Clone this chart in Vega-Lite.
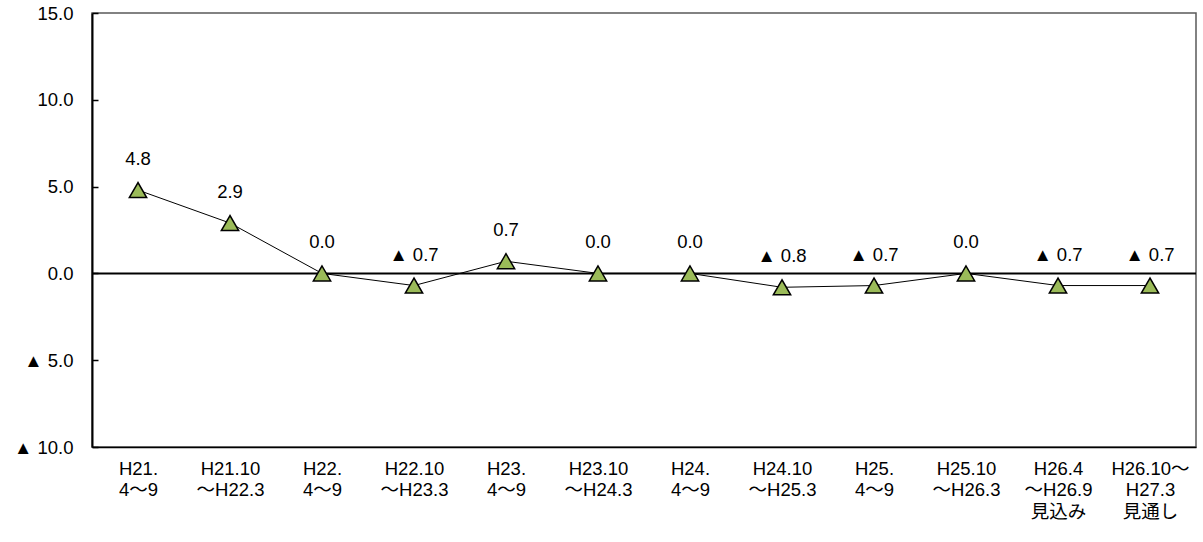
{
  "$schema": "https://vega.github.io/schema/vega-lite/v6.json",
  "width": 1104,
  "height": 434,
  "autosize": {"type": "none"},
  "padding": {"left": 92, "top": 13, "right": 7, "bottom": 95},
  "background": "white",
  "config": {
    "font": "Liberation Sans, Noto Sans CJK JP",
    "view": {"stroke": "#595959", "strokeWidth": 1.5}
  },
  "data": {
    "values": [
      {"period": "H21.|4～9", "value": 4.8},
      {"period": "H21.10|～H22.3", "value": 2.9},
      {"period": "H22.|4～9", "value": 0.0},
      {"period": "H22.10|～H23.3", "value": -0.7},
      {"period": "H23.|4～9", "value": 0.7},
      {"period": "H23.10|～H24.3", "value": 0.0},
      {"period": "H24.|4～9", "value": 0.0},
      {"period": "H24.10|～H25.3", "value": -0.8},
      {"period": "H25.|4～9", "value": -0.7},
      {"period": "H25.10|～H26.3", "value": 0.0},
      {"period": "H26.4|～H26.9|見込み", "value": -0.7},
      {"period": "H26.10～|H27.3|見通し", "value": -0.7}
    ]
  },
  "encoding": {
    "x": {
      "field": "period",
      "type": "nominal",
      "sort": null,
      "scale": {"paddingInner": 0, "paddingOuter": 0},
      "axis": {
        "title": null,
        "labelAngle": 0,
        "labelExpr": "split(datum.label, '|')",
        "labelFontSize": 18.5,
        "labelColor": "black",
        "labelLineHeight": 21.5,
        "labelPadding": 12,
        "ticks": false,
        "domainColor": "black",
        "domainWidth": 1.5
      }
    },
    "y": {
      "field": "value",
      "type": "quantitative",
      "scale": {"domain": [-10, 15], "nice": false, "zero": false},
      "axis": {
        "title": null,
        "values": [-10, -5, 0, 5, 10, 15],
        "grid": false,
        "labelExpr": "datum.value < 0 ? '▲ ' + format(-datum.value, '.1f') : format(datum.value, '.1f')",
        "labelFontSize": 18.5,
        "labelColor": "black",
        "domainColor": "black",
        "domainWidth": 2,
        "tickColor": "black",
        "tickWidth": 1.5,
        "tickSize": -6,
        "labelPadding": 25
      }
    }
  },
  "layer": [
    {
      "data": {"values": [{"zero": 0}]},
      "mark": {"type": "rule", "color": "black", "strokeWidth": 2},
      "encoding": {"y": {"field": "zero", "type": "quantitative"}, "x": null}
    },
    {
      "mark": {"type": "line", "color": "black", "strokeWidth": 1}
    },
    {
      "mark": {"type": "point", "shape": "triangle-up", "filled": true, "fill": "#9BBB59", "stroke": "black", "strokeWidth": 1.5, "size": 300, "opacity": 1}
    },
    {
      "mark": {"type": "text", "dy": -31, "fontSize": 18.5, "color": "black", "baseline": "middle"},
      "encoding": {
        "text": {"field": "label"}
      },
      "transform": [
        {"calculate": "datum.value < 0 ? '▲ ' + format(-datum.value, '.1f') : format(datum.value, '.1f')", "as": "label"}
      ]
    }
  ]
}
